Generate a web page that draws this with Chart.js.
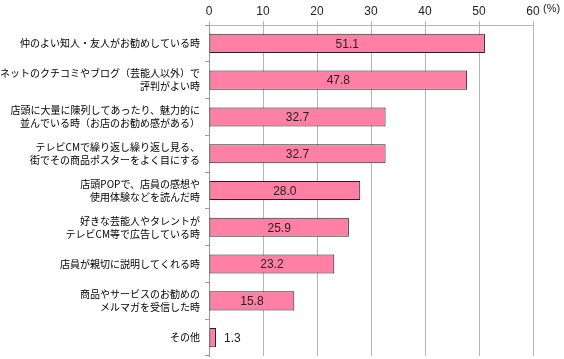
<!DOCTYPE html>
<html><head><meta charset="utf-8">
<script src="https://cdn.jsdelivr.net/npm/chart.js@4"></script>
<style>html,body{margin:0;padding:0;background:#fff}#w{width:564px;height:359px}</style>
</head><body><div id="w"><canvas id="c"></canvas></div>
<script>
const categories = [
  ["仲のよい知人・友人がお勧めしている時"],
  ["ネットのクチコミやブログ（芸能人以外）で","評判がよい時"],
  ["店頭に大量に陳列してあったり、魅力的に","並んでいる時（お店のお勧め感がある）"],
  ["テレビCMで繰り返し繰り返し見る、","街でその商品ポスターをよく目にする"],
  ["店頭POPで、店員の感想や","使用体験などを読んだ時"],
  ["好きな芸能人やタレントが","テレビCM等で広告している時"],
  ["店員が親切に説明してくれる時"],
  ["商品やサービスのお勧めの","メルマガを受信した時"],
  ["その他"]
];
const values = [51.1, 47.8, 32.7, 32.7, 28.0, 25.9, 23.2, 15.8, 1.3];
const xTicks = [0, 10, 20, 30, 40, 50, 60];
const unitLabel = "(%)";

const valuePlugin = {
  id: 'vals',
  afterDatasetsDraw(chart) {
    const ctx = chart.ctx;
    const meta = chart.getDatasetMeta(0);
    ctx.save();
    ctx.font = '12px "Liberation Sans", Arial, sans-serif';
    ctx.fillStyle = '#222';
    ctx.textBaseline = 'middle';
    meta.data.forEach((bar, i) => {
      const v = values[i];
      const txt = v.toFixed(1);
      const w = bar.x - bar.base;
      if (w > 40) {
        ctx.textAlign = 'center';
        ctx.fillText(txt, (bar.x + bar.base) / 2, bar.y + 1);
      } else {
        ctx.textAlign = 'left';
        ctx.fillText(txt, bar.x + 8, bar.y + 1);
      }
    });
    const xs = chart.scales.x;
    ctx.textAlign = 'left';
    ctx.fillStyle = '#222';
    ctx.font = '11px "Liberation Sans", Arial, sans-serif';
    ctx.fillText(unitLabel, xs.getPixelForValue(60) + 10, 9);
    ctx.restore();
  }
};

new Chart(document.getElementById('c'), {
  type: 'bar',
  data: {
    labels: categories,
    datasets: [{
      data: values,
      backgroundColor: '#FF80A4',
      borderColor: '#222',
      borderWidth: 1,
      borderSkipped: false,
      categoryPercentage: 1,
      barPercentage: 0.52
    }]
  },
  options: {
    indexAxis: 'y',
    responsive: true,
    maintainAspectRatio: false,
    animation: false,
    layout: { padding: { left: 0, right: 31, top: 0, bottom: 3 } },
    plugins: { legend: { display: false }, tooltip: { enabled: false } },
    scales: {
      x: {
        position: 'top',
        min: 0, max: 60,
        afterBuildTicks(s) { s.ticks = xTicks.map(v => ({ value: v })); },
        afterFit(s) { s.height = 25; },
        ticks: { font: { size: 12, family: '"Liberation Sans", Arial, sans-serif' }, color: '#222', padding: 2, maxRotation: 0 },
        grid: { color: '#b4b4b4', lineWidth: 1, tickLength: 4 },
        border: { color: '#b4b4b4' }
      },
      y: {
        afterFit(s) { s.width = 209; s.paddingTop = 0; s.paddingBottom = 0; },
        ticks: { font: { size: 10, family: '"Noto Sans CJK JP", sans-serif', lineHeight: 1.3 }, color: '#000', padding: 5 },
        grid: { offset: true, drawOnChartArea: false, color: '#999', tickLength: 4 },
        border: { color: '#999' }
      }
    }
  },
  plugins: [valuePlugin]
});
</script>
</body></html>
